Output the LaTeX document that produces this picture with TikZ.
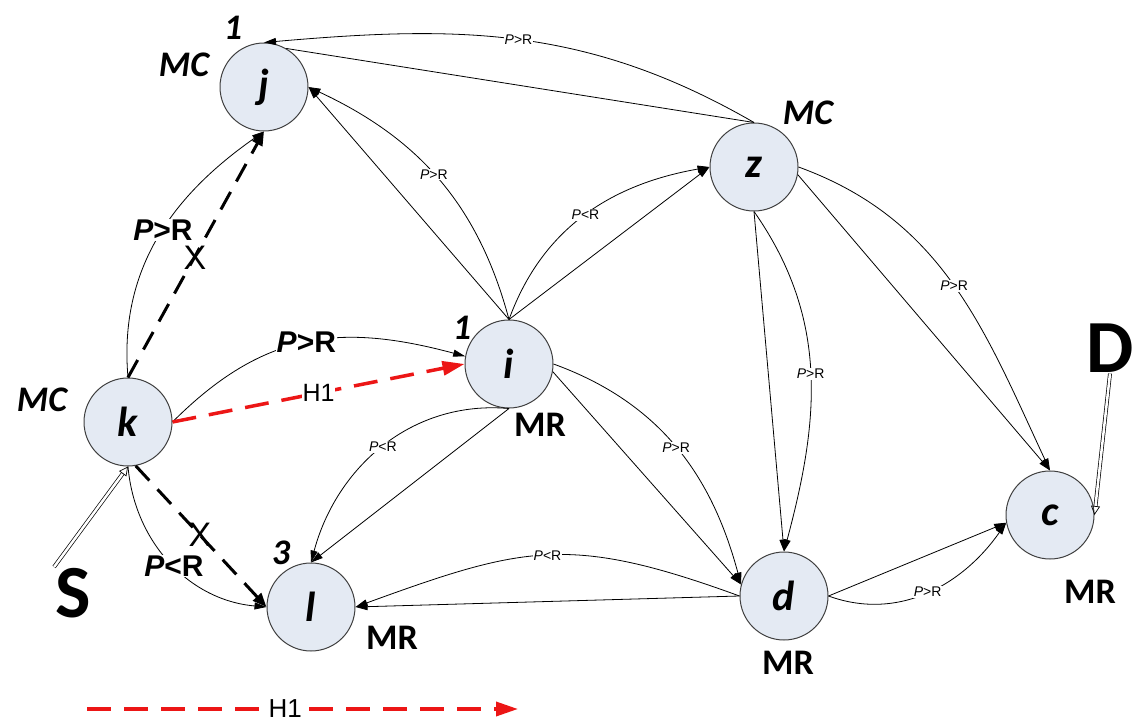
\documentclass[tikz,border=0pt]{standalone}
\usepackage{fontspec}
\setmainfont{Liberation Sans}
\newfontfamily\calib{Carlito}
\usetikzlibrary{arrows.meta}
\definecolor{nodefill}{RGB}{228,234,243}
\definecolor{hred}{RGB}{236,22,22}
\def\PgR{\textit{P}>R}
\def\PlR{\textit{P}<R}
\tikzset{
  nd/.style={circle, draw=black!75, line width=1pt, fill=nodefill, minimum size=88pt, inner sep=0pt,
    font=\calib\fontsize{42}{42}\selectfont\bfseries\itshape},
  plain/.style={line width=0.8pt},
  ed/.style={line width=0.8pt, -{Triangle[length=12pt,width=7pt]}},
  lab/.style={fill=white, inner sep=1pt, font=\fontsize{14}{14}\selectfont},
  blab/.style={fill=white, inner sep=1pt, font=\fontsize{30}{30}\selectfont\bfseries},
  tag/.style={inner sep=0pt, font=\calib\fontsize{36}{36}\selectfont\bfseries\itshape},
  mr/.style={inner sep=0pt, font=\calib\fontsize{36}{36}\selectfont\bfseries},
  big/.style={inner sep=1pt, font=\calib\fontsize{75}{75}\selectfont\bfseries},
  cross/.style={inner sep=0pt, font=\fontsize{34}{34}\selectfont},
  xdash/.style={line width=3pt, dash pattern=on 20pt off 12pt, -{Triangle[length=14pt,width=11pt]}},
  hdash/.style={draw=hred, line width=3.5pt, dash pattern=on 24pt off 13pt, -{Triangle[length=22pt,width=14pt,fill=hred]}},
  hlab/.style={fill=white, text=black, inner sep=1pt},
  dbl/.style={double, double distance=2.5pt, line width=0.7pt, -{Triangle[open,length=9pt,width=9pt]}}
}

\begin{document}
\begin{tikzpicture}[x=1pt,y=1pt]
\useasboundingbox (0,0) rectangle (1139,723);

\node [nd] (j) at (264,636) {j};
\node [nd] (z) at (754,556) {z};
\node [nd] (i) at (509,359) {i};
\node [nd] (k) at (128,301) {k};
\node [nd] (l) at (311,116) {l};
\node [nd] (d) at (784,127) {d};
\node [nd] (c) at (1050,208) {c};

\node [tag] (jone) at (233,695) {1};
\node [tag] (jmc) at (184,658) {MC};
\node [tag] (zmc) at (808,610) {MC};
\node [tag] (kmc) at (42,323) {MC};
\node [tag] (ione) at (462,395) {1};
\node [tag] (lthree) at (281,170) {3};
\node [mr] (imr) at (540,298) {MR};
\node [mr] (lmr) at (392,85) {MR};
\node [mr] (dmr) at (788,60) {MR};
\node [mr] (cmr) at (1090,131) {MR};
\node [big] (S) at (73,130) {S};
\node [big] (D) at (1110,375) {D};

\draw [ed] (z.north) to[out=150,in=5] node[lab,pos=0.5] {\PgR} (j.north);
\draw [plain] (z.north) -- (j.60);
\draw [ed] (i.north) -- (j.east);
\draw [ed] (i.north) to[out=105,in=-25] node[lab,pos=0.52] {\PgR} (j.east);
\draw [ed] (i.north) -- (z.west);
\draw [ed] (i.north) to[out=70,in=190] node[lab,pos=0.5] {\PlR} (z.west);

\draw [ed] (k.north) to[out=95,in=215] node[blab,pos=0.53] {\PgR} (j.south);
\draw [xdash] (k.north) -- (j.south);
\node [cross] (x1) at (195,465) {X};
\draw [ed] (k.east) to[out=45,in=165,looseness=1.1] node[blab,pos=0.5] {\PgR} (i.170);
\draw [hdash] (k.east) -- node[hlab,font=\fontsize{25}{25}\selectfont,pos=0.5] {H1} (i.west);
\draw [ed] (k.south) to[out=-85,in=175] node[blab,pos=0.52] {\PlR} (l.west);
\draw [xdash] (k.-80) -- (l.west);
\node [cross] (x2) at (200,188) {X};
\draw [dbl] (S.north west) -- (k.south);
\draw [dbl] (D.south) -- (c.east);

\draw [ed] (i.south) -- (l.north);
\draw [ed] (i.south) to[out=175,in=75] node[lab,pos=0.5] {\PlR} (l.north);
\draw [ed] (d.west) -- (l.east);
\draw [ed] (d.west) to[out=160,in=20,looseness=1.2] node[lab,pos=0.5] {\PlR} (l.east);
\draw [ed] (i.-10) -- (d.165);
\draw [ed] (i.east) to[out=-20,in=105] node[lab,pos=0.5] {\PgR} (d.165);
\draw [ed] (z.south) -- (d.north);
\draw [ed] (z.south) to[out=-55,in=75] node[lab,pos=0.5] {\PgR} (d.north);
\draw [ed] (z.-10) -- (c.north);
\draw [ed] (z.east) to[out=-20,in=115] node[lab,pos=0.5] {\PgR} (c.north);
\draw [ed] (d.east) -- (c.190);
\draw [ed] (d.east) to[out=-20,in=235] node[lab,pos=0.5] {\PgR} (c.190);

\coordinate (h0) at (87,14);
\coordinate (h1) at (518,14);
\draw [hdash] (h0) -- node[hlab,font=\fontsize{26}{26}\selectfont,pos=0.46] {H1} (h1);
\end{tikzpicture}
\end{document}
